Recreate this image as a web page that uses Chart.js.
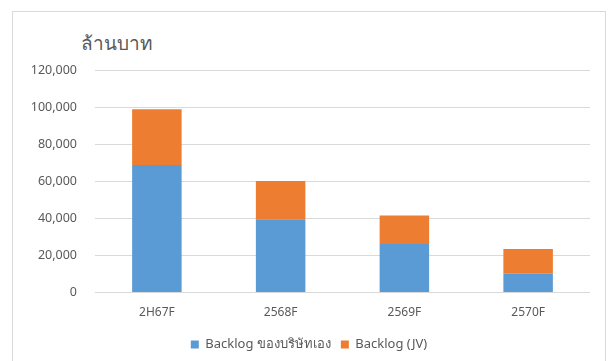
<!DOCTYPE html>
<html>
<head>
<meta charset="utf-8">
<script src="https://cdn.jsdelivr.net/npm/chart.js@4.4.1/dist/chart.umd.min.js"></script>
<style>
  html, body { margin: 0; padding: 0; background: #fff; overflow: hidden; }
  #wrap { position: relative; width: 611px; height: 361px; }
  #frame { position: absolute; left: 12px; top: 11px; width: 594px; height: 400px; border: 1px solid #d9d9d9; box-sizing: border-box; }
  #unit { position: absolute; left: 81px; top: 28px; font: 19px "Noto Sans", sans-serif; color: #595959; }
  canvas { position: absolute; left: 0; top: 0; }
</style>
</head>
<body>
<div id="wrap">
  <div id="frame"></div>
  <div id="unit">ล้านบาท</div>
  <canvas id="backlogChart" width="611" height="361"></canvas>
</div>
<script>
const categories = ['2H67F', '2568F', '2569F', '2570F'];
const ownBacklog = [68800, 39500, 26200, 10200];
const jvBacklog = [30000, 20700, 15300, 13300];
const seriesNames = ['Backlog ของบริษัทเอง', 'Backlog (JV)'];
const yMax = 120000;
const yStep = 20000;

const textGrey = '#595959';
const fontFam = '"Noto Sans", sans-serif';

const ctx = document.getElementById('backlogChart').getContext('2d');
new Chart(ctx, {
    type: 'bar',
    data: {
        labels: categories,
        datasets: [
            { label: seriesNames[0], data: ownBacklog, backgroundColor: '#5b9bd5', barPercentage: 0.4, categoryPercentage: 1 },
            { label: seriesNames[1], data: jvBacklog, backgroundColor: '#ed7d31', barPercentage: 0.4, categoryPercentage: 1 }
        ]
    },
    options: {
        responsive: false,
        animation: false,
        layout: { padding: { left: 28, right: 21, top: 70, bottom: 0 } },
        plugins: {
            tooltip: { enabled: false },
            legend: {
                position: 'bottom',
                labels: {
                    boxWidth: 8, boxHeight: 8, padding: 10,
                    color: textGrey,
                    font: { family: fontFam, size: 13 }
                }
            }
        },
        scales: {
            x: {
                stacked: true,
                afterFit: s => { s.height += 3; },
                grid: { display: false },
                border: { display: false },
                ticks: { color: textGrey, font: { family: fontFam, size: 12 }, padding: 5 }
            },
            y: {
                stacked: true,
                min: 0, max: yMax,
                afterFit: s => { s.width = 67; },
                grid: { color: '#d9d9d9', drawTicks: false },
                border: { display: false },
                ticks: {
                    stepSize: yStep,
                    padding: 18,
                    color: textGrey,
                    font: { family: fontFam, size: 12.5 },
                    callback: v => v.toLocaleString('en-US')
                }
            }
        }
    }
});
</script>
</body>
</html>
